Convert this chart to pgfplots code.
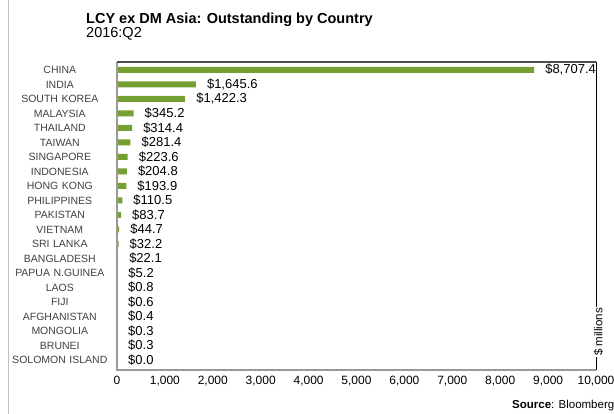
\documentclass[border=0pt]{standalone}
\usepackage{fontspec}
\setmainfont{Liberation Sans}
\usepackage{pgfplots}
\usepackage{pgfplotstable}
\pgfplotsset{compat=1.18}
\definecolor{bargreen}{HTML}{77A033}
\definecolor{catgray}{HTML}{404040}
\pgfplotstableread{
y val
0 8707.4
1 1645.6
2 1422.3
3 345.2
4 314.4
5 281.4
6 223.6
7 204.8
8 193.9
9 110.5
10 83.7
11 44.7
12 32.2
13 22.1
14 5.2
15 0.8
16 0.6
17 0.4
18 0.3
19 0.3
20 0.0
}\datatable
\begin{document}
\begin{tikzpicture}[x=1pt,y=1pt]
\useasboundingbox (0,0) rectangle (614,414);
\draw[color=black!25, line width=1pt] (8.5,0) -- (8.5,414);
\node[anchor=base west, inner sep=0, font=\fontsize{14.5}{16}\selectfont\bfseries] at (86,390.2) {LCY ex DM Asia: Outstanding by Country};
\node[anchor=base west, inner sep=0, font=\fontsize{14.5}{16}\selectfont] at (86,376.4) {2016:Q2};
\begin{axis}[
  at={(117pt,44pt)}, anchor=south west,
  scale only axis, width=479pt, height=308pt,
  xbar, bar width=6pt,
  y dir=reverse,
  ymin=-0.55, ymax=20.69,
  xmin=0, xmax=10000,
  xtick={0,1000,...,10000},
  scaled x ticks=false,
  ytick={0,...,20},
  yticklabels={CHINA,INDIA,SOUTH KOREA,MALAYSIA,THAILAND,TAIWAN,SINGAPORE,INDONESIA,HONG KONG,PHILIPPINES,PAKISTAN,VIETNAM,SRI LANKA,BANGLADESH,PAPUA N.GUINEA,LAOS,FIJI,AFGHANISTAN,MONGOLIA,BRUNEI,SOLOMON ISLAND},
  /pgf/number format/assume math mode=true,
  xticklabel style={font=\fontsize{12}{14}\selectfont, /pgf/number format/1000 sep={,}, yshift=-3pt},
  yticklabel style={font=\fontsize{10.5}{12}\selectfont, text=catgray, text width=100pt, align=center, inner sep=0pt, xshift=-7pt},
  major tick length=0pt,
  axis line style={draw=none},
  clip=false,
  point meta=x,
  nodes near coords={\$\pgfmathprintnumber[fixed, fixed zerofill, precision=1, 1000 sep={,}, assume math mode=true]{\pgfplotspointmeta}},
  every node near coord/.append style={anchor=west, xshift=10pt, inner sep=1pt, font=\fontsize{13}{15}\selectfont, text=black},
]
\addplot[fill=bargreen, draw=none] table[x=val, y=y] {\datatable};
\draw[color=black!40, line width=1.5pt] (rel axis cs:0,1) -- (rel axis cs:0,0) -- (rel axis cs:1,0);
\draw[color=black!70, line width=2pt] (rel axis cs:0,1) -- (rel axis cs:1,1);
\draw[color=black, line width=1pt] (rel axis cs:1,1) -- (rel axis cs:1,0);
\end{axis}
\node[rotate=90, fill=white, inner sep=1pt, font=\fontsize{11.5}{13}\selectfont] at (598.5,82) {\$ millions};
\node[anchor=base west, inner sep=0, font=\fontsize{11.5}{13}\selectfont] at (512,5) {\textbf{Source}: Bloomberg};
\end{tikzpicture}
\end{document}
